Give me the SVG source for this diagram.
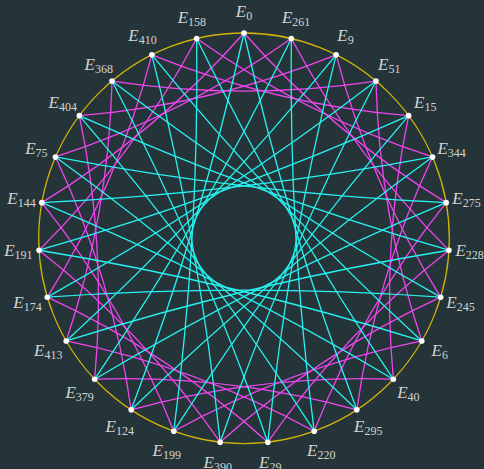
<svg xmlns="http://www.w3.org/2000/svg" xmlns:xlink="http://www.w3.org/1999/xlink" width="484" height="469" viewBox="0 0 484 469">
<style>
.bg{fill:#243438}
.rim{fill:none;stroke:#d2b20a;stroke-width:1.3}
.cy{fill:none;stroke:#28f2f2;stroke-width:1.3}
.mg{fill:none;stroke:#f046f0;stroke-width:1.3}
.dot{fill:#ffffff}
.lbl{font-family:"Liberation Serif","DejaVu Serif",serif;font-size:17px;fill:#d4d4d4;text-anchor:middle}
.lbl .e{font-style:italic}
.lbl .s{font-size:12px}
</style>
<defs>
<path id="cedge" class="cy" d="M47.32,179.42 Q244,193.42 440.68,179.42"/>
<path id="medge" class="mg" d="M112.04,81.03 Q244,101.03 375.96,81.03"/>
</defs>
<rect class="bg" x="0" y="0" width="484" height="469"/>
<circle class="rim" cx="244" cy="238.3" r="205.3"/>
<g id="connectors">
<g id="magenta-edges">
<use xlink:href="#medge" href="#medge" transform="rotate(0 244 238.3)"/>
<use xlink:href="#medge" href="#medge" transform="rotate(13.333 244 238.3)"/>
<use xlink:href="#medge" href="#medge" transform="rotate(26.667 244 238.3)"/>
<use xlink:href="#medge" href="#medge" transform="rotate(40 244 238.3)"/>
<use xlink:href="#medge" href="#medge" transform="rotate(53.333 244 238.3)"/>
<use xlink:href="#medge" href="#medge" transform="rotate(66.667 244 238.3)"/>
<use xlink:href="#medge" href="#medge" transform="rotate(80 244 238.3)"/>
<use xlink:href="#medge" href="#medge" transform="rotate(93.333 244 238.3)"/>
<use xlink:href="#medge" href="#medge" transform="rotate(106.667 244 238.3)"/>
<use xlink:href="#medge" href="#medge" transform="rotate(120 244 238.3)"/>
<use xlink:href="#medge" href="#medge" transform="rotate(133.333 244 238.3)"/>
<use xlink:href="#medge" href="#medge" transform="rotate(146.667 244 238.3)"/>
<use xlink:href="#medge" href="#medge" transform="rotate(160 244 238.3)"/>
<use xlink:href="#medge" href="#medge" transform="rotate(173.333 244 238.3)"/>
<use xlink:href="#medge" href="#medge" transform="rotate(186.667 244 238.3)"/>
<use xlink:href="#medge" href="#medge" transform="rotate(200 244 238.3)"/>
<use xlink:href="#medge" href="#medge" transform="rotate(213.333 244 238.3)"/>
<use xlink:href="#medge" href="#medge" transform="rotate(226.667 244 238.3)"/>
<use xlink:href="#medge" href="#medge" transform="rotate(240 244 238.3)"/>
<use xlink:href="#medge" href="#medge" transform="rotate(253.333 244 238.3)"/>
<use xlink:href="#medge" href="#medge" transform="rotate(266.667 244 238.3)"/>
<use xlink:href="#medge" href="#medge" transform="rotate(280 244 238.3)"/>
<use xlink:href="#medge" href="#medge" transform="rotate(293.333 244 238.3)"/>
<use xlink:href="#medge" href="#medge" transform="rotate(306.667 244 238.3)"/>
<use xlink:href="#medge" href="#medge" transform="rotate(320 244 238.3)"/>
<use xlink:href="#medge" href="#medge" transform="rotate(333.333 244 238.3)"/>
<use xlink:href="#medge" href="#medge" transform="rotate(346.667 244 238.3)"/>
</g>
<g id="cyan-edges">
<use xlink:href="#cedge" href="#cedge" transform="rotate(6.667 244 238.3)"/>
<use xlink:href="#cedge" href="#cedge" transform="rotate(20 244 238.3)"/>
<use xlink:href="#cedge" href="#cedge" transform="rotate(33.333 244 238.3)"/>
<use xlink:href="#cedge" href="#cedge" transform="rotate(46.667 244 238.3)"/>
<use xlink:href="#cedge" href="#cedge" transform="rotate(60 244 238.3)"/>
<use xlink:href="#cedge" href="#cedge" transform="rotate(73.333 244 238.3)"/>
<use xlink:href="#cedge" href="#cedge" transform="rotate(86.667 244 238.3)"/>
<use xlink:href="#cedge" href="#cedge" transform="rotate(100 244 238.3)"/>
<use xlink:href="#cedge" href="#cedge" transform="rotate(113.333 244 238.3)"/>
<use xlink:href="#cedge" href="#cedge" transform="rotate(126.667 244 238.3)"/>
<use xlink:href="#cedge" href="#cedge" transform="rotate(140 244 238.3)"/>
<use xlink:href="#cedge" href="#cedge" transform="rotate(153.333 244 238.3)"/>
<use xlink:href="#cedge" href="#cedge" transform="rotate(166.667 244 238.3)"/>
<use xlink:href="#cedge" href="#cedge" transform="rotate(180 244 238.3)"/>
<use xlink:href="#cedge" href="#cedge" transform="rotate(193.333 244 238.3)"/>
<use xlink:href="#cedge" href="#cedge" transform="rotate(206.667 244 238.3)"/>
<use xlink:href="#cedge" href="#cedge" transform="rotate(220 244 238.3)"/>
<use xlink:href="#cedge" href="#cedge" transform="rotate(233.333 244 238.3)"/>
<use xlink:href="#cedge" href="#cedge" transform="rotate(246.667 244 238.3)"/>
<use xlink:href="#cedge" href="#cedge" transform="rotate(260 244 238.3)"/>
<use xlink:href="#cedge" href="#cedge" transform="rotate(273.333 244 238.3)"/>
<use xlink:href="#cedge" href="#cedge" transform="rotate(286.667 244 238.3)"/>
<use xlink:href="#cedge" href="#cedge" transform="rotate(300 244 238.3)"/>
<use xlink:href="#cedge" href="#cedge" transform="rotate(313.333 244 238.3)"/>
<use xlink:href="#cedge" href="#cedge" transform="rotate(326.667 244 238.3)"/>
<use xlink:href="#cedge" href="#cedge" transform="rotate(340 244 238.3)"/>
<use xlink:href="#cedge" href="#cedge" transform="rotate(353.333 244 238.3)"/>
</g>
</g>
<g id="nodes">
<g id="E0"><circle class="dot" cx="244" cy="33" r="2.8"/><text class="lbl" x="244" y="17.3"><tspan class="e">E</tspan><tspan class="s" dy="3">0</tspan></text></g>
<g id="E261"><circle class="dot" cx="291.35" cy="38.54" r="2.8"/><text class="lbl" x="296.12" y="23.4"><tspan class="e">E</tspan><tspan class="s" dy="3">261</tspan></text></g>
<g id="E9"><circle class="dot" cx="336.14" cy="54.84" r="2.8"/><text class="lbl" x="345.43" y="41.3"><tspan class="e">E</tspan><tspan class="s" dy="3">9</tspan></text></g>
<g id="E51"><circle class="dot" cx="375.96" cy="81.03" r="2.8"/><text class="lbl" x="389.27" y="70.2"><tspan class="e">E</tspan><tspan class="s" dy="3">51</tspan></text></g>
<g id="E15"><circle class="dot" cx="408.64" cy="115.65" r="2.8"/><text class="lbl" x="425.24" y="108.3"><tspan class="e">E</tspan><tspan class="s" dy="3">15</tspan></text></g>
<g id="E344"><circle class="dot" cx="432.57" cy="157.12" r="2.8"/><text class="lbl" x="451.58" y="153.9"><tspan class="e">E</tspan><tspan class="s" dy="3">344</tspan></text></g>
<g id="E275"><circle class="dot" cx="446.18" cy="202.65" r="2.8"/><text class="lbl" x="466.57" y="204.1"><tspan class="e">E</tspan><tspan class="s" dy="3">275</tspan></text></g>
<g id="E228"><circle class="dot" cx="448.95" cy="250.24" r="2.8"/><text class="lbl" x="469.62" y="256.4"><tspan class="e">E</tspan><tspan class="s" dy="3">228</tspan></text></g>
<g id="E245"><circle class="dot" cx="440.68" cy="297.18" r="2.8"/><text class="lbl" x="460.51" y="308.1"><tspan class="e">E</tspan><tspan class="s" dy="3">245</tspan></text></g>
<g id="E6"><circle class="dot" cx="421.8" cy="340.95" r="2.8"/><text class="lbl" x="439.72" y="356.3"><tspan class="e">E</tspan><tspan class="s" dy="3">6</tspan></text></g>
<g id="E40"><circle class="dot" cx="393.33" cy="379.18" r="2.8"/><text class="lbl" x="408.39" y="398.4"><tspan class="e">E</tspan><tspan class="s" dy="3">40</tspan></text></g>
<g id="E295"><circle class="dot" cx="356.81" cy="409.83" r="2.8"/><text class="lbl" x="368.19" y="432.1"><tspan class="e">E</tspan><tspan class="s" dy="3">295</tspan></text></g>
<g id="E220"><circle class="dot" cx="314.22" cy="431.22" r="2.8"/><text class="lbl" x="321.3" y="455.7"><tspan class="e">E</tspan><tspan class="s" dy="3">220</tspan></text></g>
<g id="E29"><circle class="dot" cx="267.83" cy="442.21" r="2.8"/><text class="lbl" x="270.24" y="467.8"><tspan class="e">E</tspan><tspan class="s" dy="3">29</tspan></text></g>
<g id="E390"><circle class="dot" cx="220.17" cy="442.21" r="2.8"/><text class="lbl" x="217.76" y="467.8"><tspan class="e">E</tspan><tspan class="s" dy="3">390</tspan></text></g>
<g id="E199"><circle class="dot" cx="173.78" cy="431.22" r="2.8"/><text class="lbl" x="166.7" y="455.7"><tspan class="e">E</tspan><tspan class="s" dy="3">199</tspan></text></g>
<g id="E124"><circle class="dot" cx="131.19" cy="409.83" r="2.8"/><text class="lbl" x="119.81" y="432.1"><tspan class="e">E</tspan><tspan class="s" dy="3">124</tspan></text></g>
<g id="E379"><circle class="dot" cx="94.67" cy="379.18" r="2.8"/><text class="lbl" x="79.61" y="398.4"><tspan class="e">E</tspan><tspan class="s" dy="3">379</tspan></text></g>
<g id="E413"><circle class="dot" cx="66.2" cy="340.95" r="2.8"/><text class="lbl" x="48.28" y="356.3"><tspan class="e">E</tspan><tspan class="s" dy="3">413</tspan></text></g>
<g id="E174"><circle class="dot" cx="47.32" cy="297.18" r="2.8"/><text class="lbl" x="27.49" y="308.1"><tspan class="e">E</tspan><tspan class="s" dy="3">174</tspan></text></g>
<g id="E191"><circle class="dot" cx="39.05" cy="250.24" r="2.8"/><text class="lbl" x="18.38" y="256.4"><tspan class="e">E</tspan><tspan class="s" dy="3">191</tspan></text></g>
<g id="E144"><circle class="dot" cx="41.82" cy="202.65" r="2.8"/><text class="lbl" x="21.43" y="204.1"><tspan class="e">E</tspan><tspan class="s" dy="3">144</tspan></text></g>
<g id="E75"><circle class="dot" cx="55.43" cy="157.12" r="2.8"/><text class="lbl" x="36.42" y="153.9"><tspan class="e">E</tspan><tspan class="s" dy="3">75</tspan></text></g>
<g id="E404"><circle class="dot" cx="79.36" cy="115.65" r="2.8"/><text class="lbl" x="62.76" y="108.3"><tspan class="e">E</tspan><tspan class="s" dy="3">404</tspan></text></g>
<g id="E368"><circle class="dot" cx="112.04" cy="81.03" r="2.8"/><text class="lbl" x="98.73" y="70.2"><tspan class="e">E</tspan><tspan class="s" dy="3">368</tspan></text></g>
<g id="E410"><circle class="dot" cx="151.86" cy="54.84" r="2.8"/><text class="lbl" x="142.57" y="41.3"><tspan class="e">E</tspan><tspan class="s" dy="3">410</tspan></text></g>
<g id="E158"><circle class="dot" cx="196.65" cy="38.54" r="2.8"/><text class="lbl" x="191.88" y="23.4"><tspan class="e">E</tspan><tspan class="s" dy="3">158</tspan></text></g>
</g>
</svg>
